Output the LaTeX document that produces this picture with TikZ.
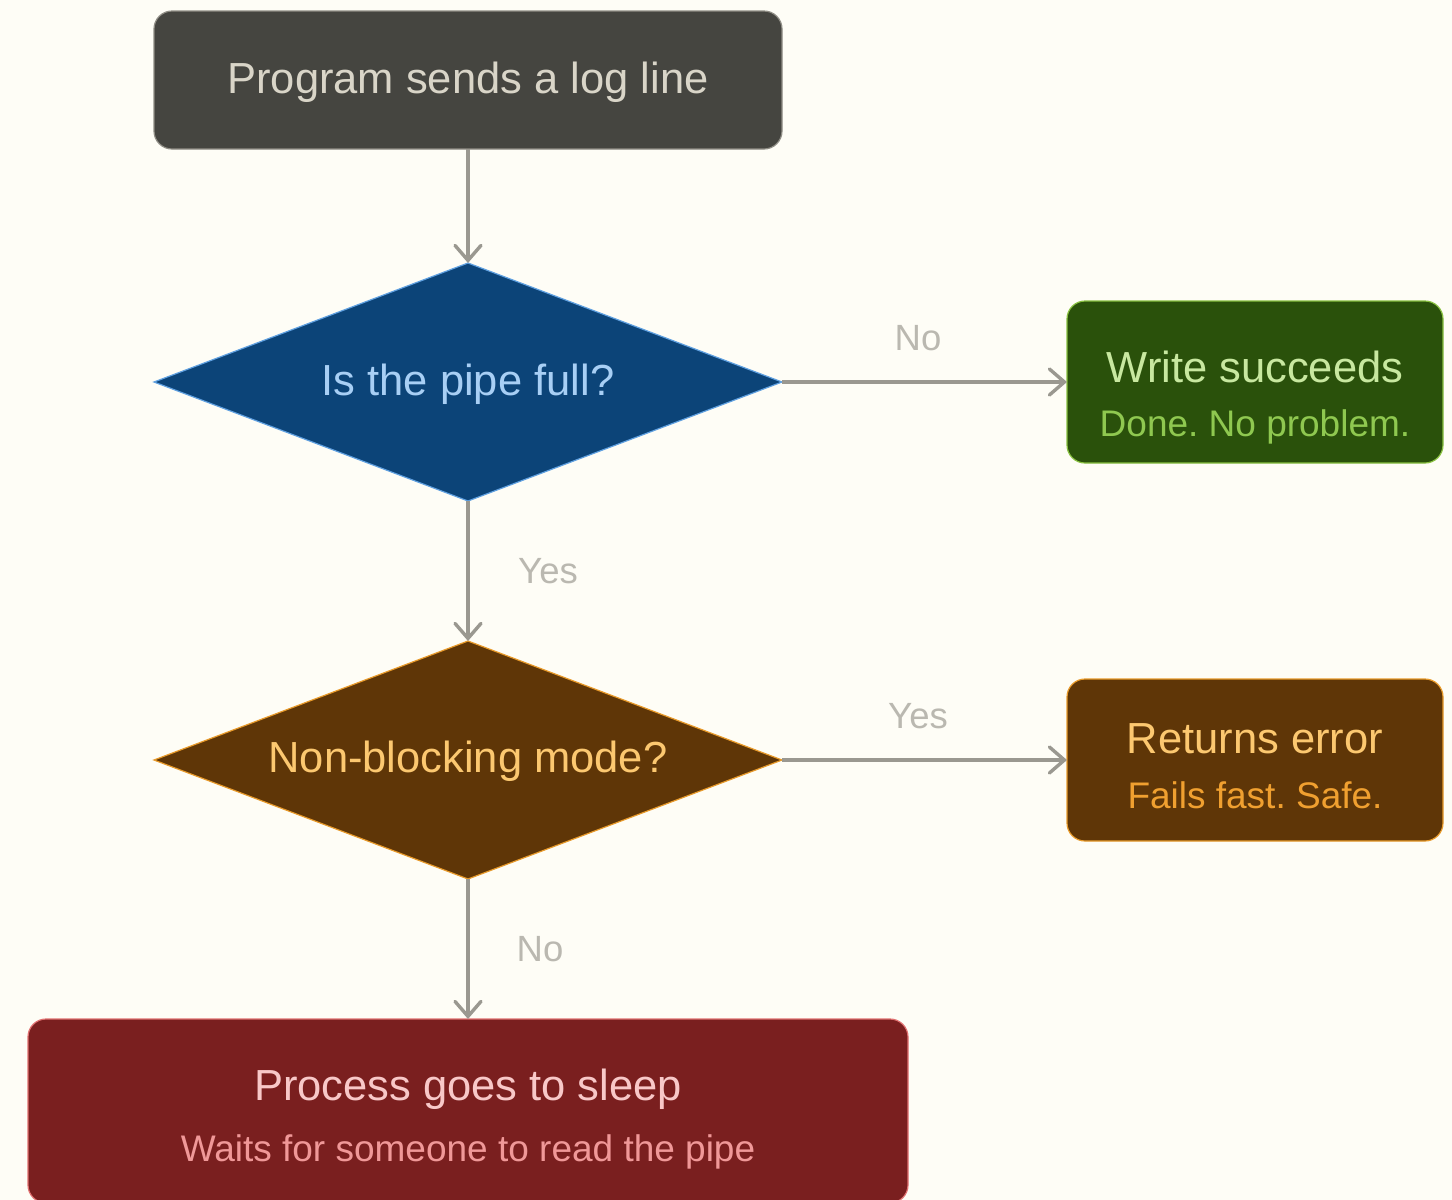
\documentclass[tikz,border=0pt]{standalone}
\usepackage{fontspec}
\setmainfont{Liberation Sans}
\usetikzlibrary{arrows.meta,shapes.geometric}
\frenchspacing
\definecolor{bg}{HTML}{FEFDF6}
\definecolor{edgec}{HTML}{9A9890}
\definecolor{lblc}{HTML}{BAB8B0}
\definecolor{topfill}{HTML}{454540}
\definecolor{topdraw}{HTML}{8F8D85}
\definecolor{toptext}{HTML}{D9D5C8}
\definecolor{bluefill}{HTML}{0C4478}
\definecolor{bluedraw}{HTML}{5FA0E0}
\definecolor{bluetext}{HTML}{A8CFF5}
\definecolor{greenfill}{HTML}{2A510B}
\definecolor{greendraw}{HTML}{88C040}
\definecolor{greentext}{HTML}{C8E8A0}
\definecolor{greensub}{HTML}{8FC850}
\definecolor{orfill}{HTML}{5F3607}
\definecolor{ordraw}{HTML}{E89A2A}
\definecolor{ortext}{HTML}{FCC870}
\definecolor{orsub}{HTML}{F0A030}
\definecolor{redfill}{HTML}{7A1F1F}
\definecolor{reddraw}{HTML}{E07070}
\definecolor{redtext}{HTML}{F8C8C8}
\definecolor{redsub}{HTML}{F09898}
\newcommand{\mainsz}{\fontsize{43.5}{52}\selectfont}
\newcommand{\subsz}{\fontsize{37}{44}\selectfont}
\newcommand{\lblsz}{\fontsize{36.5}{44}\selectfont}
\tikzset{
  boxnode/.style={rectangle, rounded corners=18pt, line width=1.2pt, inner sep=0pt, outer sep=0pt},
  decnode/.style={diamond, line width=1.2pt, inner sep=0pt, outer sep=0pt, minimum width=628pt, minimum height=238pt, aspect=2.64},
  flow/.style={draw=edgec, line width=3.4pt, -{Straight Barb[length=15pt,width=26pt,line width=3.4pt,line cap=round]}},
  elabel/.style={text=lblc, font=\lblsz, inner sep=0pt},
  txt/.style={inner sep=0pt, anchor=base},
}
\begin{document}
\begin{tikzpicture}[x=1pt,y=-1pt]
\useasboundingbox (0,0) rectangle (1452,1200);
\fill[bg] (0,0) rectangle (1452,1200);

% nodes
\node[boxnode, fill=topfill, draw=topdraw, minimum width=628pt, minimum height=138pt] (start) at (468,80) {};
\node[txt, text=toptext, font=\mainsz] (starttxt) at (468,93) {Program sends a log line};

\node[decnode, fill=bluefill, draw=bluedraw] (full) at (468,382) {};
\node[txt, text=bluetext, font=\mainsz] (fulltxt) at (468,395) {Is the pipe full?};

\node[boxnode, fill=greenfill, draw=greendraw, minimum width=376pt, minimum height=162pt] (ok) at (1255,382) {};
\node[txt, text=greentext, font=\mainsz] (oktxt) at (1255,382) {Write succeeds};
\node[txt, text=greensub, font=\subsz] (oksub) at (1255,436) {Done. No problem.};

\node[decnode, fill=orfill, draw=ordraw] (nb) at (468,760) {};
\node[txt, text=ortext, font=\mainsz] (nbtxt) at (468,772) {Non-blocking mode?};

\node[boxnode, fill=orfill, draw=ordraw, minimum width=376pt, minimum height=162pt] (err) at (1255,760) {};
\node[txt, text=ortext, font=\mainsz] (errtxt) at (1255,753) {Returns error};
\node[txt, text=orsub, font=\subsz] (errsub) at (1255,808) {Fails fast. Safe.};

\node[boxnode, fill=redfill, draw=reddraw, minimum width=880pt, minimum height=184pt] (sleep) at (468,1111) {};
\node[txt, text=redtext, font=\mainsz] (sleeptxt) at (468,1100) {Process goes to sleep};
\node[txt, text=redsub, font=\subsz] (sleepsub) at (468,1161) {Waits for someone to read the pipe};

% connectors
\draw[flow] (start.south) -- (full.north);
\draw[flow] (full.east) -- (ok.west);
\draw[flow] (full.south) -- (nb.north);
\draw[flow] (nb.east) -- (err.west);
\draw[flow] (nb.south) -- (sleep.north);

% labels
\node[elabel] (lno1) at (918,338) {No};
\node[elabel] (lyes1) at (548,571) {Yes};
\node[elabel] (lyes2) at (918,716) {Yes};
\node[elabel] (lno2) at (540,949) {No};
\end{tikzpicture}
\end{document}
